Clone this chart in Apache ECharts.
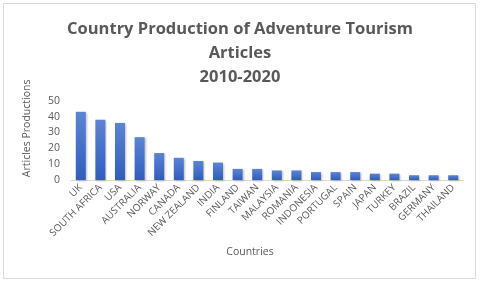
<!DOCTYPE html>
<html><head><meta charset="utf-8">
<script src="https://cdn.jsdelivr.net/npm/echarts@6/dist/echarts.min.js"></script>
<style>html,body{margin:0;padding:0;background:#fff}#c{width:480px;height:283px}</style>
</head><body><div id="c"></div>
<script>
const countries = ["UK","SOUTH AFRICA","USA","AUSTRALIA","NORWAY","CANADA","NEW ZEALAND","INDIA","FINLAND","TAIWAN","MALAYSIA","ROMANIA","INDONESIA","PORTUGAL","SPAIN","JAPAN","TURKEY","BRAZIL","GERMANY","THAILAND"];
const articles = [43,38,36,27,17,14,12,11,7,7,6,6,5,5,5,4,4,3,3,3];
const yTicks = [0,10,20,30,40,50];
const titleLines = ["Country Production of Adventure Tourism","Articles","2010-2020"];

const chart = echarts.init(document.getElementById('c'), null, {renderer:'canvas'});
const grey = '#595959';
chart.setOption({
  animation:false,
  backgroundColor:'#fff',
  title:{
    text:titleLines.join('\n'),
    left:'center', top:12,
    textStyle:{fontFamily:'Open Sans', fontWeight:'bold', fontSize:16.5, color:grey, lineHeight:24}
  },
  graphic:[{type:'rect', shape:{x:3.5,y:3.5,width:472,height:275}, style:{fill:null, stroke:'#d9d9d9', lineWidth:1}, silent:true, z:-1}],
  grid:{left:71, right:17, top:100.7, bottom:103},
  xAxis:{
    type:'category', data:countries,
    name:'Countries', nameLocation:'middle', nameGap:67,
    nameTextStyle:{fontFamily:'Open Sans', fontSize:10.5, color:grey, padding:[0,34,0,0]},
    axisLine:{lineStyle:{color:'#d9d9d9'}},
    axisTick:{show:false},
    axisLabel:{rotate:45, interval:0, fontFamily:'Open Sans', fontSize:10, color:grey, margin:6}
  },
  yAxis:{
    type:'value', min:yTicks[0], max:yTicks[yTicks.length-1], interval:10,
    name:'Articles Productions', nameLocation:'middle', nameGap:38, nameRotate:90,
    nameTextStyle:{fontFamily:'Open Sans', fontSize:10.5, color:grey, padding:[0,0,0,24]},
    splitLine:{show:false},
    axisLine:{show:false}, axisTick:{show:false},
    axisLabel:{fontFamily:'Open Sans', fontSize:10.5, color:grey, margin:11}
  },
  series:[{
    type:'bar', data:articles, barWidth:10,
    itemStyle:{
      color:new echarts.graphic.LinearGradient(0,0,0,1,[{offset:0,color:'#5c84d6'},{offset:1,color:'#2f5dbf'}]),
      shadowColor:'rgba(0,0,0,0.25)', shadowBlur:2, shadowOffsetX:1, shadowOffsetY:1
    }
  }]
});
</script></body></html>
